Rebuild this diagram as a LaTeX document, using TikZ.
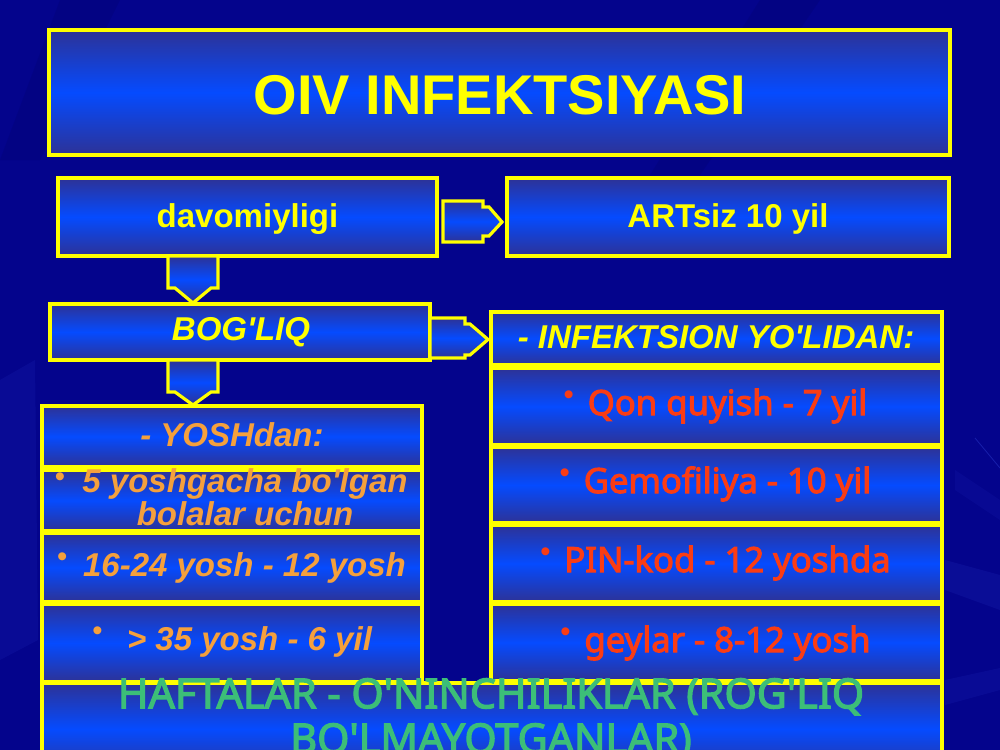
\documentclass[tikz,border=0pt]{standalone}
\usepackage{fontspec}
\setmainfont{Liberation Sans}
\newfontfamily\nsans{Noto Sans}[FakeBold=3]
\usetikzlibrary{fit,calc}
\newcommand{\qq}{\textquotesingle}
\definecolor{bg}{RGB}{4,4,140}
\definecolor{bglite}{RGB}{60,80,230}
\definecolor{bdark}{RGB}{45,50,150}
\definecolor{bmid}{RGB}{5,75,255}
\definecolor{yel}{RGB}{255,255,0}
\definecolor{orng}{RGB}{245,160,60}
\definecolor{redo}{RGB}{250,60,20}
\definecolor{grn}{RGB}{60,190,120}
\begin{document}
\begin{tikzpicture}[x=0.75pt,y=-0.75pt,
  bx/.style={draw=yel, line width=2.4pt, top color=bdark, bottom color=bdark, middle color=bmid, inner sep=0pt, outer sep=0pt},
  barrow/.style={draw=yel, line width=2.4pt, top color=bdark, bottom color=bdark, middle color=bmid, line join=miter},
  ytxt/.style={text=yel, anchor=base, inner sep=0pt, font=\bfseries\fontsize{24.75pt}{28pt}\selectfont},
  yit/.style={ytxt, font=\bfseries\itshape\fontsize{24.75pt}{28pt}\selectfont},
  otxt/.style={text=orng, anchor=base, inner sep=0pt, font=\bfseries\itshape\fontsize{24.75pt}{24.75pt}\selectfont},
  rtxt/.style={text=redo, anchor=base, inner sep=0pt, font=\nsans\fontsize{26pt}{28pt}\selectfont},
  bul/.style={inner sep=0pt, anchor=center, font=\fontsize{22pt}{22pt}\selectfont}
]
\useasboundingbox (0,0) rectangle (1000,750);
\clip (0,0) rectangle (1000,750);
% background
\fill[bg] (0,0) rectangle (1000,750);
\fill[bglite, opacity=0.10] (0,380) -- (35,360) -- (38,640) -- (0,660) -- cycle;
\fill[bglite, opacity=0.12] (945,560) -- (1000,575) -- (1000,610) -- (945,590) -- cycle;
\fill[bglite, opacity=0.10] (945,680) -- (1000,668) -- (1000,690) -- (945,705) -- cycle;
\draw[bglite, opacity=0.35, line width=0.6pt] (975,438) -- (1000,468);
\fill[bglite, opacity=0.08] (955,470) -- (1000,500) -- (1000,520) -- (955,490) -- cycle;
\fill[black, opacity=0.06] (60,0) -- (120,0) -- (40,160) -- (0,160) -- cycle;
\fill[black, opacity=0.06] (760,0) -- (820,0) -- (700,175) -- (650,175) -- cycle;

% boxes
\node[bx, fit={(49,30)(950,155)}] (title) {};
\node[bx, fit={(58,178)(437,256)}] (davo) {};
\node[bx, fit={(507,178)(949,256)}] (art) {};
\node[bx, fit={(50,304)(430,360)}] (bog) {};
% left column
\node[bx, fit={(42,406)(422,467)}] (yosh) {};
\node[bx, fit={(42,470)(422,531)}] (l1) {};
\node[bx, fit={(42,533)(422,602)}] (l2) {};
\node[bx, fit={(42,604)(422,682)}] (l3) {};
% right column
\node[bx, fit={(491,312)(942,365)}] (inf) {};
\node[bx, fit={(491,368)(942,445)}] (r1) {};
\node[bx, fit={(491,447)(942,523)}] (r2) {};
\node[bx, fit={(491,525)(942,602)}] (r3) {};
\node[bx, fit={(491,604)(942,681)}] (r4) {};
% bottom
\node[bx, fit={(42,683)(942,775)}] (bot) {};

% block arrows
\draw[barrow] ($(davo.east)+(6,-16)$) -- ($(davo.east)+(46,-16)$) -- ($(davo.east)+(46,-10)$)
  -- ($(davo.east)+(52,-10)$) -- ($(art.west)+(-5,5)$) -- ($(davo.east)+(52,19)$)
  -- ($(davo.east)+(46,19)$) -- ($(davo.east)+(46,25)$) -- ($(davo.east)+(6,25)$) -- cycle;
\draw[barrow] ($(bog.east)+(0,-14)$) -- ($(bog.east)+(35,-14)$) -- ($(bog.east)+(35,-8)$)
  -- ($(bog.east)+(40,-8)$) -- ($(inf.west)+(-3,1)$) -- ($(bog.east)+(40,23)$)
  -- ($(bog.east)+(35,23)$) -- ($(bog.east)+(35,26)$) -- ($(bog.east)+(0,26)$) -- cycle;
\draw[barrow] ($(davo.south west)+(110,0)$) -- ($(davo.south west)+(160,0)$) -- ($(davo.south west)+(160,32)$)
  -- ($(davo.south west)+(153,32)$) -- ($(bog.north)+(-47,-1)$) -- ($(davo.south west)+(117,32)$)
  -- ($(davo.south west)+(110,32)$) -- cycle;
\draw[barrow] ($(bog.south west)+(118,0)$) -- ($(bog.south west)+(168,0)$) -- ($(bog.south west)+(168,32)$)
  -- ($(bog.south west)+(161,32)$) -- ($(yosh.north)+(-39,-1)$) -- ($(bog.south west)+(125,32)$)
  -- ($(bog.south west)+(118,32)$) -- cycle;

% texts
\node[ytxt, font=\bfseries\fontsize{42pt}{48pt}\selectfont] (ttitle) at (500,114) {OIV INFEKTSIYASI};
\node[ytxt] (tdavo) at (247.5,227) {davomiyligi};
\node[ytxt] (tart) at (728,227) {ARTsiz 10 yil};
\node[yit] (tbog) at (241,340) {BOG\qq LIQ};
\node[yit] (tinf) at (716,348) {- INFEKTSION YO\qq LIDAN:};
\node[otxt] (tyosh) at (232,446) {- YOSHdan:};

\node[otxt, anchor=north, align=center] (tl1) at (245,468) {5 yoshgacha bo\qq lgan\\bolalar uchun};
\node[bul, text=orng] (bl1) at (60,480) {•};
\node[otxt] (tl2) at (244.5,576) {16-24 yosh - 12 yosh};
\node[bul, text=orng] (bl2) at ([xshift=-15.5pt,yshift=12pt]tl2.base west) {•};
\node[otxt] (tl3) at (249.5,650) {> 35 yosh - 6 yil};
\node[bul, text=orng] (bl3) at ([xshift=-22pt,yshift=12pt]tl3.base west) {•};

\node[rtxt] (tr1) at (727.5,415) {Qon quyish - 7 yil};
\node[bul, text=redo] (br1) at ([xshift=-14pt,yshift=13pt]tr1.base west) {•};
\node[rtxt] (tr2) at (727.5,493) {Gemofiliya - 10 yil};
\node[bul, text=redo] (br2) at ([xshift=-14pt,yshift=13pt]tr2.base west) {•};
\node[rtxt] (tr3) at (727.5,572) {PIN-kod - 12 yoshda};
\node[bul, text=redo] (br3) at ([xshift=-14pt,yshift=13pt]tr3.base west) {•};
\node[rtxt] (tr4) at (727.5,652) {geylar - 8-12 yosh};
\node[bul, text=redo] (br4) at ([xshift=-14pt,yshift=13pt]tr4.base west) {•};

\node[text=grn, anchor=north, align=center, inner sep=0pt,
  font=\nsans\fontsize{31pt}{33.75pt}\selectfont] (tbot) at (491,678)
  {HAFTALAR - O'NINCHILIKLAR (ROG'LIQ\\BO'LMAYOTGANLAR)};
\end{tikzpicture}
\end{document}
